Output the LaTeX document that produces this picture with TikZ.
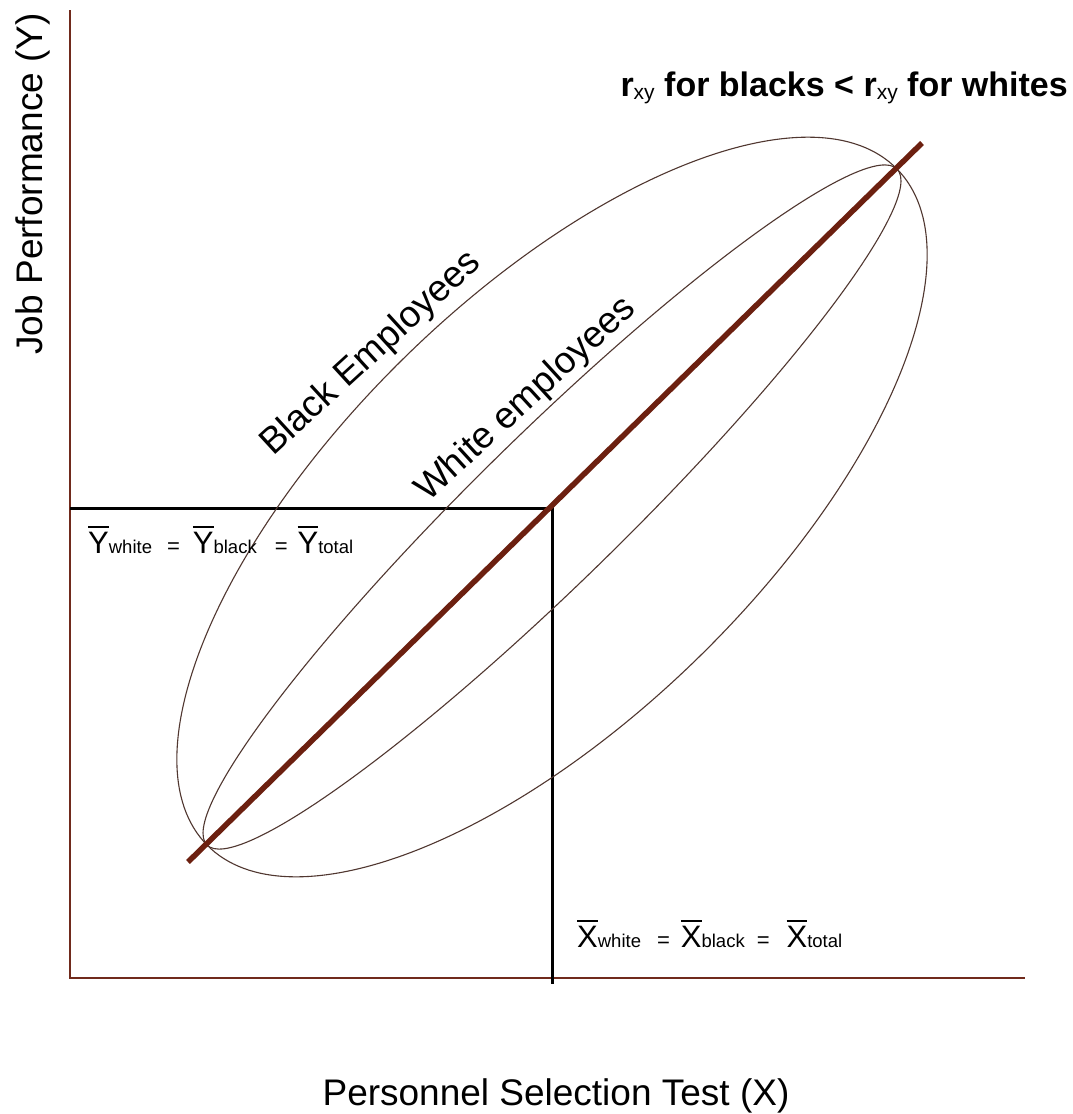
\documentclass[tikz,border=0pt]{standalone}
\usepackage{fontspec}
\setmainfont{Liberation Sans}
\definecolor{axisbrown}{RGB}{112,42,28}
\definecolor{regbrown}{RGB}{108,32,16}
\definecolor{ellcol}{RGB}{80,55,48}
\newcommand\ovl[1]{\leavevmode\vbox{\hrule height 1.6pt\kern 4pt\hbox{#1}}}
\newcommand\subtxt[1]{{\fontsize{18.5}{18.5}\selectfont #1}}
\newcommand\eqsign{{\fontsize{22}{22}\selectfont =}}
\newcommand\xysub{{\mdseries\fontsize{21}{21}\selectfont\raisebox{-3pt}{xy}}}
\tikzset{
  axisline/.style={draw=axisbrown, line width=2.8pt},
  meanline/.style={draw=black, line width=3pt},
  regline/.style={draw=regbrown, line width=5.5pt, line cap=butt},
  ellline/.style={draw=ellcol, line width=1.1pt},
  biglabel/.style={inner sep=0pt, font=\fontsize{37}{37}\selectfont},
}
\begin{document}
\begin{tikzpicture}[x=1pt,y=-1pt]
\useasboundingbox (0,0) rectangle (1072,1114);
\fill[white] (0,0) rectangle (1072,1114);
% axes
\coordinate (O) at (70,978);
\coordinate (Ytop) at (70,10);
\coordinate (Xend) at (1025,978);
\draw[axisline] (Ytop) -- (O) -- (Xend);
% means
\coordinate (My) at (70,508);
\coordinate (M) at (552,508);
\coordinate (Mx) at (552,984);
\draw[meanline] (My) -- (M) -- (Mx);
% ellipses centred on the means
\coordinate (C) at (552,507);
\draw[ellline, rotate around={44.4:(C)}] (C) ellipse [x radius=483, y radius=210];
\draw[ellline, rotate around={44.4:(C)}] (C) ellipse [x radius=483, y radius=74];
% regression line
\coordinate (R1) at (188,862);
\coordinate (R2) at (922,143);
\draw[regline] (R1) -- (R2);
% labels
\node[biglabel, rotate=90, anchor=base east] (ylabel) at (42,13) {Job Performance (Y)};
\node[biglabel, anchor=base] (xlabel) at (556,1105) {Personnel Selection Test (X)};
\node[biglabel, rotate=42.5, anchor=base west] (blk) at (273,457) {Black Employees};
\node[biglabel, rotate=42.5, anchor=base west] (wht) at (428,503) {White employees};
\node[inner sep=0pt, anchor=base east, font=\fontsize{34}{34}\selectfont\bfseries] (rxy) at (1068,96) {r\xysub{} for blacks < r\xysub{} for whites};
\node[inner sep=0pt, anchor=base west, font=\fontsize{31}{31}\selectfont] (ymean) at (88,553) {\ovl{Y}\subtxt{white}\hspace{15pt}\eqsign\hspace{13pt}\ovl{Y}\subtxt{black}\hspace{18pt}\eqsign\hspace{10pt}\ovl{Y}\subtxt{total}};
\node[inner sep=0pt, anchor=base west, font=\fontsize{31}{31}\selectfont] (xmean) at (577,947) {\ovl{X}\subtxt{white}\hspace{16pt}\eqsign\hspace{11pt}\ovl{X}\subtxt{black}\hspace{12pt}\eqsign\hspace{17pt}\ovl{X}\subtxt{total}};
\end{tikzpicture}
\end{document}
